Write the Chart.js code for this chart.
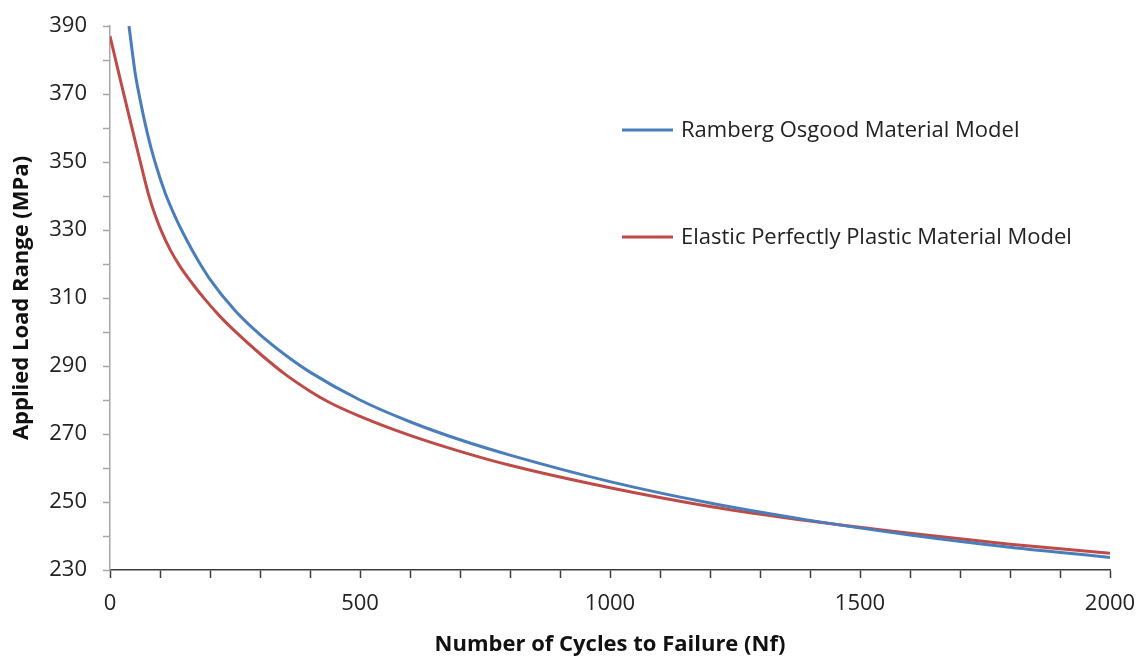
<!DOCTYPE html>
<html>
<head>
<meta charset="utf-8">
<title>Applied Load Range vs Cycles to Failure</title>
<script src="https://cdn.jsdelivr.net/npm/chart.js@4.4.0/dist/chart.umd.min.js"></script>
<style>
  html, body { margin: 0; padding: 0; background: #fff; }
  canvas { display: block; }
</style>
</head>
<body>
<canvas id="fatigueChart" width="1142" height="659"></canvas>
<script>
// Ramberg Osgood curve (cycles, MPa)
const cyclesRO = [38, 50, 60, 75, 90, 110, 130, 150, 175, 200, 250, 300, 350, 400, 500, 600, 700, 800, 1000, 1200, 1400, 1600, 1800, 2000];
const loadRO   = [390, 376.5, 368.5, 358.3, 350, 341, 334, 328, 321.3, 315.5, 306.3, 299.2, 293.3, 288.2, 280, 273.6, 268.3, 263.8, 256, 249.7, 244.6, 240.3, 236.7, 233.7];

// Elastic perfectly plastic curve
const cyclesEPP = [0, 20, 40, 60, 77, 90, 103, 120, 140, 165, 190, 220, 253, 300, 350, 400, 440, 500, 600, 700, 800, 1000, 1200, 1400, 1600, 1800, 2000];
const loadEPP   = [387, 374.6, 362.4, 350.4, 340.5, 334.5, 329.6, 324.3, 319.3, 314.2, 309.6, 304.6, 299.8, 293.6, 287.6, 282.6, 279.2, 275.2, 269.6, 264.9, 260.8, 254.2, 248.7, 244.4, 240.8, 237.6, 234.9];

const seriesNames = ['Ramberg Osgood Material Model', 'Elastic Perfectly Plastic Material Model'];
const seriesColors = ['#4a7ebb', '#be4b48'];

const xMin = 0, xMax = 2000, xStep = 100, xLabelEvery = 500;
const yMin = 230, yMax = 390, yStep = 10, yLabelEvery = 20;

const toPoints = (xs, ys) => xs.map((x, i) => ({ x: x, y: ys[i] }));

const FONT = "'Open Sans', 'DejaVu Sans', sans-serif";

// legend drawn inside the plot area, right of centre
const inlineLegend = {
    id: 'inlineLegend',
    afterDraw(chart) {
        const ctx = chart.ctx;
        const rows = [130, 237];
        ctx.save();
        ctx.font = '22px ' + FONT;
        ctx.textBaseline = 'middle';
        ctx.fillStyle = '#222';
        chart.data.datasets.forEach((ds, i) => {
            const y = rows[i];
            ctx.strokeStyle = ds.borderColor;
            ctx.lineWidth = 3;
            ctx.beginPath();
            ctx.moveTo(622, y);
            ctx.lineTo(673, y);
            ctx.stroke();
            ctx.fillText(ds.label, 681, y + 1);
        });
        ctx.restore();
    }
};

const ctx = document.getElementById('fatigueChart').getContext('2d');
const chart = new Chart(ctx, {
    type: 'scatter',
    data: {
        datasets: [
            {
                label: seriesNames[0],
                data: toPoints(cyclesRO, loadRO),
                borderColor: seriesColors[0],
                backgroundColor: seriesColors[0],
                borderWidth: 3,
                showLine: true,
                pointRadius: 0,
                cubicInterpolationMode: 'monotone'
            },
            {
                label: seriesNames[1],
                data: toPoints(cyclesEPP, loadEPP),
                borderColor: seriesColors[1],
                backgroundColor: seriesColors[1],
                borderWidth: 3,
                showLine: true,
                pointRadius: 0,
                cubicInterpolationMode: 'monotone'
            }
        ]
    },
    options: {
        responsive: false,
        animation: false,
        devicePixelRatio: 1,
        layout: { padding: { top: 26, right: 32, left: 0, bottom: 0 } },
        plugins: {
            legend: { display: false },
            tooltip: { enabled: false }
        },
        scales: {
            x: {
                type: 'linear',
                min: xMin,
                max: xMax,
                afterFit(scale) {
                    scale.height = 89;
                    // end labels may overhang into the layout padding
                    scale.paddingLeft = 0;
                    scale.paddingRight = 0;
                },
                border: { color: '#3c3c3c', width: 1.5 },
                grid: { drawOnChartArea: false, tickLength: 8, tickColor: '#3c3c3c', tickWidth: 1.5 },
                ticks: {
                    stepSize: xStep,
                    autoSkip: false,
                    maxRotation: 0,
                    padding: 13,
                    color: '#222',
                    font: { family: FONT, size: 22 },
                    callback: v => (v % xLabelEvery === 0 ? String(v) : '')
                },
                title: {
                    display: true,
                    text: 'Number of Cycles to Failure (Nf)',
                    color: '#111',
                    font: { family: FONT, size: 22, weight: 'bold' },
                    padding: { top: 0, bottom: 1 }
                }
            },
            y: {
                type: 'linear',
                min: yMin,
                max: yMax,
                afterFit(scale) {
                    scale.width = 110;
                    scale.paddingTop = 0;
                    scale.paddingBottom = 0;
                },
                border: { color: '#a6a6a6', width: 1.5 },
                grid: { drawOnChartArea: false, tickLength: 7, tickColor: '#a6a6a6', tickWidth: 1.5 },
                ticks: {
                    stepSize: yStep,
                    autoSkip: false,
                    padding: 16,
                    color: '#222',
                    font: { family: FONT, size: 22 },
                    callback: v => ((v - yMin) % yLabelEvery === 0 ? String(v) : '')
                },
                title: {
                    display: true,
                    text: 'Applied Load Range (MPa)',
                    color: '#111',
                    font: { family: FONT, size: 22, weight: 'bold' },
                    padding: { top: 9, bottom: 0 }
                }
            }
        }
    },
    plugins: [inlineLegend]
});
</script>
</body>
</html>
